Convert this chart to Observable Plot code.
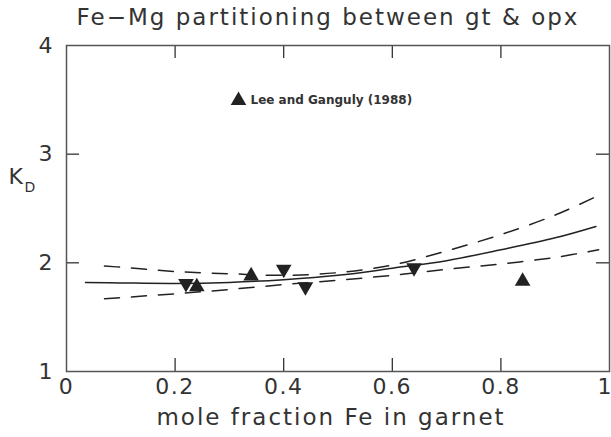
<!DOCTYPE html>
<html>
<head>
<meta charset="utf-8">
<script src="https://cdn.jsdelivr.net/npm/d3@7"></script>
<script src="https://cdn.jsdelivr.net/npm/@observablehq/plot@0.6"></script>
<style>
  html, body { margin: 0; padding: 0; background: #fff; }
</style>
</head>
<body>
<div id="chart"></div>
<script>
// ---- data ----
const titleText = "Fe\u2212Mg partitioning between gt & opx";
const xLabelText = "mole fraction Fe in garnet";
const yLabelMain = "K";
const yLabelSub = "D";
const legendText = "Lee and Ganguly (1988)";

const xTicks = [0, 0.2, 0.4, 0.6, 0.8];
const xTickLabels = ["0", "0.2", "0.4", "0.6", "0.8"];
const xLastTick = [1];
const xLastTickLabel = ["1"];
const yTicks = [1, 2, 3, 4];
const yTickLabels = ["1", "2", "3", "4"];
const innerXTicks = [0.2, 0.4, 0.6, 0.8];
const innerYTicks = [2, 3];

// Lee and Ganguly (1988) — up triangles
const leeX = [0.24, 0.34, 0.84];
const leeY = [1.78, 1.88, 1.83];
// other data — down triangles
const otherX = [0.22, 0.40, 0.44, 0.64];
const otherY = [1.81, 1.94, 1.78, 1.955];

// fitted curve (solid)
const fitX = [0.035, 0.1, 0.2, 0.3, 0.4, 0.5, 0.6, 0.7, 0.8, 0.9, 0.975];
const fitY = [1.82, 1.815, 1.81, 1.82, 1.845, 1.885, 1.95, 2.02, 2.12, 2.23, 2.335];
// confidence bands (dashed)
const bandX = [0.07, 0.1, 0.2, 0.3, 0.4, 0.5, 0.6, 0.7, 0.8, 0.9, 0.98];
const upperY = [1.97, 1.96, 1.92, 1.90, 1.885, 1.91, 1.98, 2.11, 2.26, 2.44, 2.62];
const lowerY = [1.67, 1.68, 1.715, 1.755, 1.80, 1.84, 1.885, 1.94, 1.99, 2.05, 2.12];

// ---- build tables ----
const lee = leeX.map((x, i) => ({x, y: leeY[i]}));
const other = otherX.map((x, i) => ({x, y: otherY[i]}));
const fit = fitX.map((x, i) => ({x, y: fitY[i]}));
const upper = bandX.map((x, i) => ({x, y: upperY[i]}));
const lower = bandX.map((x, i) => ({x, y: lowerY[i]}));

const W = 611, H = 437;
const mL = 66, mR = 2, mT = 45, mB = 66;
const plotW = W - mL - mR, plotH = H - mT - mB;
const tickLen = 13;
const ink = "#222";
const textInk = "#333";
const font = "DejaVu Sans";

const chart = Plot.plot({
  width: W,
  height: H,
  marginLeft: mL,
  marginRight: mR,
  marginTop: mT,
  marginBottom: mB,
  style: {fontFamily: font, fontSize: "22px", color: textInk, background: "#fff"},
  x: {domain: [0, 1]},
  y: {domain: [1, 4]},
  marks: [
    // axes labels only
    Plot.axisX({ticks: xTicks, tickFormat: (d, i) => xTickLabels[i], tickSize: 0, tickPadding: 7, label: null, fontSize: 22}),
    Plot.text(xLastTick, {x: d => d, frameAnchor: "bottom", text: (d, i) => xLastTickLabel[i], textAnchor: "end", dx: 2, dy: 7, lineAnchor: "top", fontSize: 22, fill: textInk}),
    Plot.axisY({ticks: yTicks, tickFormat: (d, i) => yTickLabels[i], tickSize: 0, tickPadding: 14, label: null, fontSize: 22}),
    // inward ticks
    Plot.tickX(innerXTicks, {x: d => d, insetTop: plotH - tickLen, stroke: ink, strokeWidth: 1.2}),
    Plot.tickX(innerXTicks, {x: d => d, insetBottom: plotH - tickLen, stroke: ink, strokeWidth: 1.2}),
    Plot.tickY(innerYTicks, {y: d => d, insetRight: plotW - tickLen, stroke: ink, strokeWidth: 1.2}),
    Plot.tickY(innerYTicks, {y: d => d, insetLeft: plotW - tickLen, stroke: ink, strokeWidth: 1.2}),
    // curves
    Plot.line(upper, {x: "x", y: "y", curve: "catmull-rom", stroke: ink, strokeWidth: 1.5, strokeDasharray: "15,12"}),
    Plot.line(lower, {x: "x", y: "y", curve: "catmull-rom", stroke: ink, strokeWidth: 1.5, strokeDasharray: "15,12"}),
    Plot.line(fit, {x: "x", y: "y", curve: "catmull-rom", stroke: ink, strokeWidth: 1.5}),
    // points
    Plot.dot(lee, {x: "x", y: "y", symbol: "triangle", r: 5.8, fill: ink, stroke: "none"}),
    Plot.dot(other, {x: "x", y: "y", symbol: "triangle", r: 5.8, rotate: 180, fill: ink, stroke: "none"}),
    // frame
    Plot.frame({stroke: "#555", strokeWidth: 1.5}),
    // title
    Plot.text([titleText], {frameAnchor: "top", dx: -10, dy: -28, text: d => d, fontSize: 23, fill: textInk, lineAnchor: "middle", className: "wide"}),
    // x label
    Plot.text([xLabelText], {frameAnchor: "bottom", dx: -7, dy: 46, text: d => d, fontSize: 23, fill: textInk, lineAnchor: "middle", className: "wide"}),
    // y label K_D
    Plot.text([yLabelMain], {frameAnchor: "left", dx: -58, dy: -32, text: d => d, fontSize: 22, fill: textInk, lineAnchor: "middle"}),
    Plot.text([yLabelSub], {frameAnchor: "left", dx: -42, dy: -21, text: d => d, fontSize: 14, fill: textInk, lineAnchor: "middle"}),
    // legend
    Plot.dot([legendText], {frameAnchor: "top-left", dx: 172, dy: 55, symbol: "triangle", r: 5.8, fill: ink, stroke: "none"}),
    Plot.text([legendText], {frameAnchor: "top-left", dx: 184, dy: 55, text: d => d, textAnchor: "start", fontSize: 12, fontWeight: "bold", fill: textInk, lineAnchor: "middle"})
  ]
});

d3.select(chart).selectAll("g.wide text").style("letter-spacing", "2px");
d3.select(chart).selectAll("g[aria-label='x-axis tick label'] text").style("letter-spacing", "1.5px");
document.getElementById("chart").appendChild(chart);
</script>
</body>
</html>
